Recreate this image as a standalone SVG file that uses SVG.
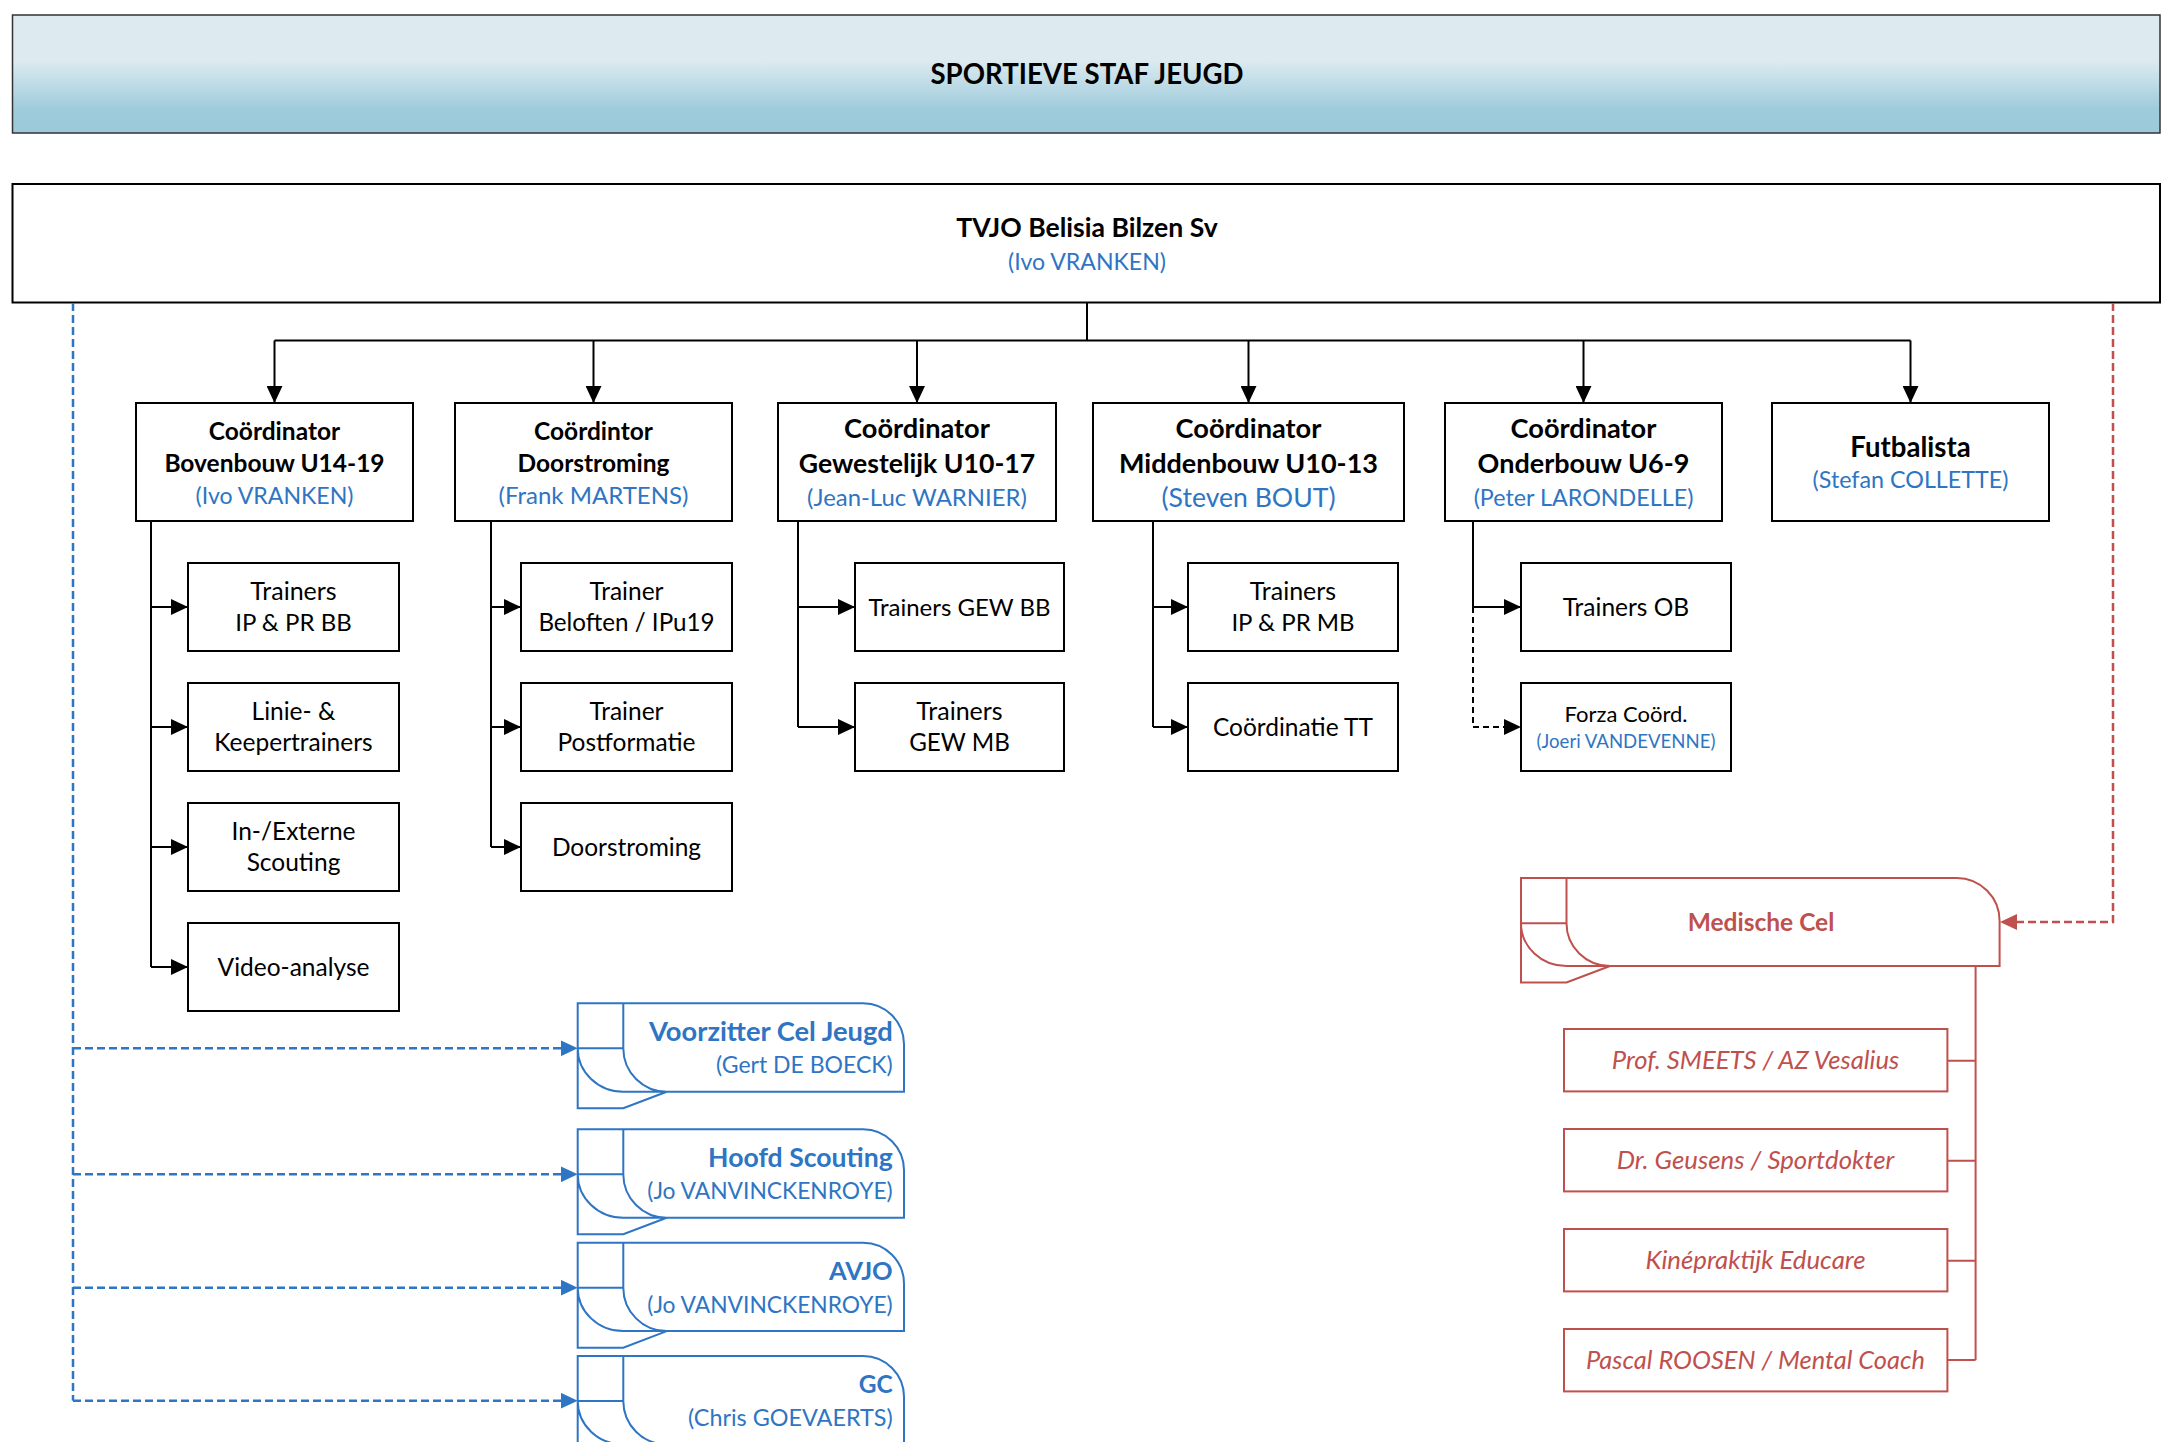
<svg xmlns="http://www.w3.org/2000/svg" width="2174" height="1442" viewBox="0 0 2174 1442">
<style>
text{font-family:Lato,"Liberation Sans",sans-serif;text-anchor:middle;fill:#000}
.b{font-weight:700}
.bl{fill:#2E75C3}
.rd{fill:#C0504D}
.it{font-style:italic}
.r{text-anchor:end}
.box{fill:#fff;stroke:#000;stroke-width:2}
.rbox{fill:#fff;stroke:#C0504D;stroke-width:2}
.con{fill:none;stroke:#000;stroke-width:2}
.dash{fill:none;stroke:#000;stroke-width:2;stroke-dasharray:6 4}
.bdash{fill:none;stroke:#2E75C3;stroke-width:2.5;stroke-dasharray:8 4}
.rdash{fill:none;stroke:#C0504D;stroke-width:2.5;stroke-dasharray:8 4}
.bsh{fill:none;stroke:#2E75C3;stroke-width:2}
.rsh{fill:none;stroke:#C0504D;stroke-width:2}
.rcon{fill:none;stroke:#C0504D;stroke-width:2}
</style>
<defs>
<linearGradient id="tg" x1="0" y1="0" x2="0" y2="1">
<stop offset="0" stop-color="#DDEBF1"/>
<stop offset="0.38" stop-color="#DDEBF1"/>
<stop offset="0.8" stop-color="#9FCBDB"/>
<stop offset="1" stop-color="#9CCADB"/>
</linearGradient>
<marker id="ak" markerUnits="userSpaceOnUse" markerWidth="17" markerHeight="16" refX="17" refY="8" orient="auto"><path d="M0,0 L17,8 L0,16 Z" fill="#000"/></marker>
<marker id="ab" markerUnits="userSpaceOnUse" markerWidth="17" markerHeight="16" refX="17" refY="8" orient="auto"><path d="M0,0 L17,8 L0,16 Z" fill="#2E75C3"/></marker>
<marker id="ar" markerUnits="userSpaceOnUse" markerWidth="17" markerHeight="16" refX="17" refY="8" orient="auto"><path d="M0,0 L17,8 L0,16 Z" fill="#C0504D"/></marker>
</defs>
<rect width="2174" height="1442" fill="#fff"/>

<g id="title">
<rect x="12.5" y="15" width="2147.5" height="118" fill="url(#tg)" stroke="#333" stroke-width="1.5"/>
<text class="b" x="1087" y="83.6" font-size="27.6">SPORTIEVE STAF JEUGD</text>
</g>

<g id="tvjo">
<rect class="box" x="12.5" y="184" width="2147.5" height="118.5"/>
<text class="b" x="1087" y="237.3" font-size="26.6">TVJO Belisia Bilzen Sv</text>
<text class="bl" x="1087" y="270" font-size="23.1">(Ivo VRANKEN)</text>
</g>

<g id="connectors">
<path class="con" d="M1087,303 V340.5 M274.5,340.5 H1910.5"/>
<path class="con" d="M274.5,340.5 V403" marker-end="url(#ak)"/>
<path class="con" d="M593.5,340.5 V403" marker-end="url(#ak)"/>
<path class="con" d="M917,340.5 V403" marker-end="url(#ak)"/>
<path class="con" d="M1248.5,340.5 V403" marker-end="url(#ak)"/>
<path class="con" d="M1583.5,340.5 V403" marker-end="url(#ak)"/>
<path class="con" d="M1910.5,340.5 V403" marker-end="url(#ak)"/>
<path class="con" d="M151,521 V967"/>
<path class="con" d="M151,607 H188" marker-end="url(#ak)"/>
<path class="con" d="M151,727 H188" marker-end="url(#ak)"/>
<path class="con" d="M151,847 H188" marker-end="url(#ak)"/>
<path class="con" d="M151,967 H188" marker-end="url(#ak)"/>
<path class="con" d="M491,521 V847"/>
<path class="con" d="M491,607 H521" marker-end="url(#ak)"/>
<path class="con" d="M491,727 H521" marker-end="url(#ak)"/>
<path class="con" d="M491,847 H521" marker-end="url(#ak)"/>
<path class="con" d="M798,521 V727"/>
<path class="con" d="M798,607 H855" marker-end="url(#ak)"/>
<path class="con" d="M798,727 H855" marker-end="url(#ak)"/>
<path class="con" d="M1153,521 V727"/>
<path class="con" d="M1153,607 H1188" marker-end="url(#ak)"/>
<path class="con" d="M1153,727 H1188" marker-end="url(#ak)"/>
<path class="con" d="M1473,521 V607 H1521" marker-end="url(#ak)"/>
<path class="dash" d="M1473,607 V727 H1521" marker-end="url(#ak)"/>
<path class="bdash" d="M73,303 V1400.7"/>
<path class="bdash" d="M73,1048.3 H577.7" marker-end="url(#ab)"/>
<path class="bdash" d="M73,1174.3 H577.7" marker-end="url(#ab)"/>
<path class="bdash" d="M73,1287.7 H577.7" marker-end="url(#ab)"/>
<path class="bdash" d="M73,1400.7 H577.7" marker-end="url(#ab)"/>
<path class="rdash" d="M2113,303 V922 H2000" marker-end="url(#ar)"/>
<path class="rcon" d="M1975.6,966 V1360 M1947.4,1060.7 H1975.6 M1947.4,1160.7 H1975.6 M1947.4,1260.7 H1975.6 M1947.4,1360 H1975.6"/>
</g>

<g id="coord-bovenbouw">
<rect class="box" x="136" y="403" width="277" height="118"/>
<text class="b" x="274.5" y="440.2" font-size="24.5">Coördinator</text>
<text class="b" x="274.5" y="472.3" font-size="24.5">Bovenbouw U14-19</text>
<text class="bl" x="274.5" y="503.5" font-size="23.1">(Ivo VRANKEN)</text>
</g>
<g id="coord-doorstroming">
<rect class="box" x="455" y="403" width="277" height="118"/>
<text class="b" x="593.5" y="440.2" font-size="24.5">Coördintor</text>
<text class="b" x="593.5" y="472.3" font-size="24.5">Doorstroming</text>
<text class="bl" x="593.5" y="503.6" font-size="24">(Frank MARTENS)</text>
</g>
<g id="coord-gewestelijk">
<rect class="box" x="778" y="403" width="278" height="118"/>
<text class="b" x="917" y="438" font-size="27.2">Coördinator</text>
<text class="b" x="917" y="473" font-size="26.6">Gewestelijk U10-17</text>
<text class="bl" x="917" y="505.9" font-size="23.9">(Jean-Luc WARNIER)</text>
</g>
<g id="coord-middenbouw">
<rect class="box" x="1093" y="403" width="311" height="118"/>
<text class="b" x="1248.5" y="438" font-size="27.2">Coördinator</text>
<text class="b" x="1248.5" y="473" font-size="27">Middenbouw U10-13</text>
<text class="bl" x="1248.5" y="506.6" font-size="26.6">(Steven BOUT)</text>
</g>
<g id="coord-onderbouw">
<rect class="box" x="1445" y="403" width="277" height="118"/>
<text class="b" x="1583.5" y="438" font-size="27.2">Coördinator</text>
<text class="b" x="1583.5" y="473" font-size="27">Onderbouw U6-9</text>
<text class="bl" x="1583.5" y="505.7" font-size="23.3">(Peter LARONDELLE)</text>
</g>
<g id="futbalista">
<rect class="box" x="1772" y="403" width="277" height="118"/>
<text class="b" x="1910.5" y="457.2" font-size="27.6">Futbalista</text>
<text class="bl" x="1910.5" y="488.4" font-size="23.3">(Stefan COLLETTE)</text>
</g>

<g id="trainers-ip-pr-bb">
<rect class="box" x="188" y="563" width="211" height="88"/>
<text x="293.5" y="599.8" font-size="25">Trainers</text>
<text x="293.5" y="631.4" font-size="24">IP &amp; PR BB</text>
</g>
<g id="linie-keepertrainers">
<rect class="box" x="188" y="683" width="211" height="88"/>
<text x="293.5" y="719.8" font-size="24.5">Linie- &amp;</text>
<text x="293.5" y="751.4" font-size="24.5">Keepertrainers</text>
</g>
<g id="scouting">
<rect class="box" x="188" y="803" width="211" height="88"/>
<text x="293.5" y="839.8" font-size="24.5">In-/Externe</text>
<text x="293.5" y="871.4" font-size="24.5">Scouting</text>
</g>
<g id="video-analyse">
<rect class="box" x="188" y="923" width="211" height="88"/>
<text x="293.5" y="975.8" font-size="24.5">Video-analyse</text>
</g>

<g id="trainer-beloften">
<rect class="box" x="521" y="563" width="211" height="88"/>
<text x="626.5" y="599.8" font-size="24.5">Trainer</text>
<text x="626.5" y="631.4" font-size="24.2">Beloften / IPu19</text>
</g>
<g id="trainer-postformatie">
<rect class="box" x="521" y="683" width="211" height="88"/>
<text x="626.5" y="719.8" font-size="24.5">Trainer</text>
<text x="626.5" y="751.4" font-size="24.5">Postformatie</text>
</g>
<g id="doorstroming">
<rect class="box" x="521" y="803" width="211" height="88"/>
<text x="626.5" y="855.8" font-size="24.5">Doorstroming</text>
</g>

<g id="trainers-gew-bb">
<rect class="box" x="855" y="563" width="209" height="88"/>
<text x="959.5" y="615.8" font-size="24">Trainers GEW BB</text>
</g>
<g id="trainers-gew-mb">
<rect class="box" x="855" y="683" width="209" height="88"/>
<text x="959.5" y="719.8" font-size="25">Trainers</text>
<text x="959.5" y="751.4" font-size="24.2">GEW MB</text>
</g>

<g id="trainers-ip-pr-mb">
<rect class="box" x="1188" y="563" width="210" height="88"/>
<text x="1293" y="599.8" font-size="25">Trainers</text>
<text x="1293" y="631.4" font-size="24">IP &amp; PR MB</text>
</g>
<g id="coordinatie-tt">
<rect class="box" x="1188" y="683" width="210" height="88"/>
<text x="1293" y="735.8" font-size="24.5">Coördinatie TT</text>
</g>

<g id="trainers-ob">
<rect class="box" x="1521" y="563" width="210" height="88"/>
<text x="1626" y="615.8" font-size="24.5">Trainers OB</text>
</g>
<g id="forza">
<rect class="box" x="1521" y="683" width="210" height="88"/>
<text x="1626" y="722.2" font-size="22">Forza Coörd.</text>
<text class="bl" x="1626" y="748.4" font-size="18.6">(Joeri VANDEVENNE)</text>
</g>

<g id="voorzitter" transform="translate(577.7,1003.3)">
<path class="bsh" d="M45.6,0 H285.3 A41,41 0 0 1 326.3,41 V88.4 H45.6 M45.6,0 V45 A43.4,43.4 0 0 0 89,88.4 M45.6,0 H0 V105 H45.6 L89,88.4 M0,45 H45.6 M0,45 A45.6,43.4 0 0 0 45.6,88.4"/>
<text class="b bl r" x="315" y="38.2" font-size="27.3">Voorzitter Cel Jeugd</text>
<text class="bl r" x="315" y="70" font-size="23">(Gert DE BOECK)</text>
</g>
<g id="hoofd-scouting" transform="translate(577.7,1129.3)">
<path class="bsh" d="M45.6,0 H285.3 A41,41 0 0 1 326.3,41 V88.4 H45.6 M45.6,0 V45 A43.4,43.4 0 0 0 89,88.4 M45.6,0 H0 V105 H45.6 L89,88.4 M0,45 H45.6 M0,45 A45.6,43.4 0 0 0 45.6,88.4"/>
<text class="b bl r" x="315" y="38" font-size="26.6">Hoofd Scouting</text>
<text class="bl r" x="315" y="69.9" font-size="22.8">(Jo VANVINCKENROYE)</text>
</g>
<g id="avjo" transform="translate(577.7,1242.7)">
<path class="bsh" d="M45.6,0 H285.3 A41,41 0 0 1 326.3,41 V88.4 H45.6 M45.6,0 V45 A43.4,43.4 0 0 0 89,88.4 M45.6,0 H0 V105 H45.6 L89,88.4 M0,45 H45.6 M0,45 A45.6,43.4 0 0 0 45.6,88.4"/>
<text class="b bl r" x="315" y="37.7" font-size="25.5">AVJO</text>
<text class="bl r" x="315" y="69.9" font-size="22.8">(Jo VANVINCKENROYE)</text>
</g>
<g id="gc" transform="translate(577.7,1356)">
<path class="bsh" d="M45.6,0 H285.3 A41,41 0 0 1 326.3,41 V88.4 H45.6 M45.6,0 V45 A43.4,43.4 0 0 0 89,88.4 M45.6,0 H0 V105 H45.6 L89,88.4 M0,45 H45.6 M0,45 A45.6,43.4 0 0 0 45.6,88.4"/>
<text class="b bl r" x="315" y="37.4" font-size="24.5">GC</text>
<text class="bl r" x="315" y="70.1" font-size="23.4">(Chris GOEVAERTS)</text>
</g>

<g id="medische-cel" transform="translate(1521,877.9)">
<path class="rsh" d="M45.5,0 H435.6 A43,43 0 0 1 478.6,43 V88.1 H45.5 M45.5,0 V45.3 A43.5,42.8 0 0 0 89,88.1 M45.5,0 H0 V104.6 H45.5 L89,88.1 M0,45.3 H45.5 M0,45.3 A45.5,42.8 0 0 0 45.5,88.1"/>
<text class="b rd" x="240" y="52.8" font-size="24.5">Medische Cel</text>
</g>
<g id="prof-smeets">
<rect class="rbox" x="1564" y="1029" width="383.4" height="62.4"/>
<text class="it rd" x="1755.5" y="1069.3" font-size="25.6">Prof. SMEETS / AZ Vesalius</text>
</g>
<g id="dr-geusens">
<rect class="rbox" x="1564" y="1129" width="383.4" height="62.4"/>
<text class="it rd" x="1755.5" y="1169.3" font-size="25.8">Dr. Geusens / Sportdokter</text>
</g>
<g id="kinepraktijk">
<rect class="rbox" x="1564" y="1229" width="383.4" height="62.4"/>
<text class="it rd" x="1755.5" y="1269.3" font-size="25.8">Kinépraktijk Educare</text>
</g>
<g id="pascal-roosen">
<rect class="rbox" x="1564" y="1329" width="383.4" height="62.4"/>
<text class="it rd" x="1755.5" y="1369.3" font-size="25.4">Pascal ROOSEN / Mental Coach</text>
</g>
</svg>
